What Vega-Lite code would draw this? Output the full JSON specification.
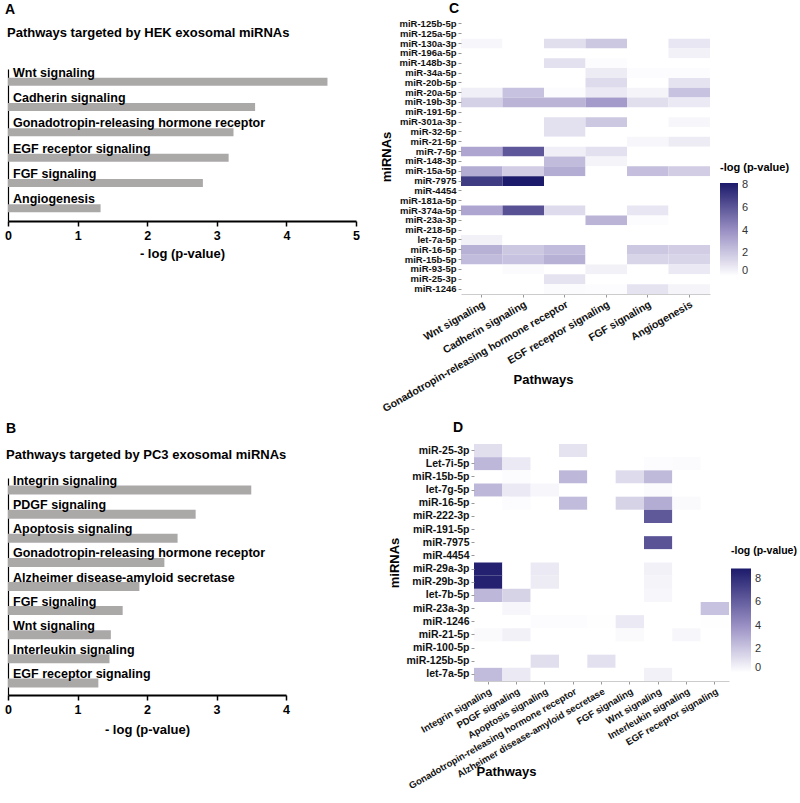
{
  "$schema": "https://vega.github.io/schema/vega-lite/v6.json",
  "padding": {"left": 4, "top": 2, "right": 0, "bottom": 0},
  "background": "#ffffff",
  "config": {
    "font": "Liberation Sans",
    "view": {"stroke": null},
    "axis": {"labelFont": "Liberation Sans", "titleFont": "Liberation Sans", "grid": false},
    "legend": {"labelFont": "Liberation Sans", "titleFont": "Liberation Sans"},
    "title": {"font": "Liberation Sans", "subtitleFont": "Liberation Sans"}
  },
  "datasets": {
    "hek": [
      {"pathway": "Wnt signaling", "value": 4.59},
      {"pathway": "Cadherin signaling", "value": 3.55},
      {"pathway": "Gonadotropin-releasing hormone receptor", "value": 3.24},
      {"pathway": "EGF receptor signaling", "value": 3.17},
      {"pathway": "FGF signaling", "value": 2.8},
      {"pathway": "Angiogenesis", "value": 1.33}
    ],
    "pc3": [
      {"pathway": "Integrin signaling", "value": 3.5},
      {"pathway": "PDGF signaling", "value": 2.7},
      {"pathway": "Apoptosis signaling", "value": 2.44},
      {"pathway": "Gonadotropin-releasing hormone receptor", "value": 2.25},
      {"pathway": "Alzheimer disease-amyloid secretase", "value": 1.89},
      {"pathway": "FGF signaling", "value": 1.65},
      {"pathway": "Wnt signaling", "value": 1.48},
      {"pathway": "Interleukin signaling", "value": 1.46},
      {"pathway": "EGF receptor signaling", "value": 1.3}
    ],
    "heatC": [
      {"mirna": "miR-125b-5p", "pathway": "Wnt signaling", "value": 0},
      {"mirna": "miR-125b-5p", "pathway": "Cadherin signaling", "value": 0},
      {"mirna": "miR-125b-5p", "pathway": "Gonadotropin-releasing hormone receptor", "value": 0},
      {"mirna": "miR-125b-5p", "pathway": "EGF receptor signaling", "value": 0},
      {"mirna": "miR-125b-5p", "pathway": "FGF signaling", "value": 0},
      {"mirna": "miR-125b-5p", "pathway": "Angiogenesis", "value": 0},
      {"mirna": "miR-125a-5p", "pathway": "Wnt signaling", "value": 0},
      {"mirna": "miR-125a-5p", "pathway": "Cadherin signaling", "value": 0},
      {"mirna": "miR-125a-5p", "pathway": "Gonadotropin-releasing hormone receptor", "value": 0},
      {"mirna": "miR-125a-5p", "pathway": "EGF receptor signaling", "value": 0},
      {"mirna": "miR-125a-5p", "pathway": "FGF signaling", "value": 0},
      {"mirna": "miR-125a-5p", "pathway": "Angiogenesis", "value": 0},
      {"mirna": "miR-130a-3p", "pathway": "Wnt signaling", "value": 0.3},
      {"mirna": "miR-130a-3p", "pathway": "Cadherin signaling", "value": 0},
      {"mirna": "miR-130a-3p", "pathway": "Gonadotropin-releasing hormone receptor", "value": 1.2},
      {"mirna": "miR-130a-3p", "pathway": "EGF receptor signaling", "value": 2.0},
      {"mirna": "miR-130a-3p", "pathway": "FGF signaling", "value": 0},
      {"mirna": "miR-130a-3p", "pathway": "Angiogenesis", "value": 0.9},
      {"mirna": "miR-196a-5p", "pathway": "Wnt signaling", "value": 0},
      {"mirna": "miR-196a-5p", "pathway": "Cadherin signaling", "value": 0},
      {"mirna": "miR-196a-5p", "pathway": "Gonadotropin-releasing hormone receptor", "value": 0},
      {"mirna": "miR-196a-5p", "pathway": "EGF receptor signaling", "value": 0},
      {"mirna": "miR-196a-5p", "pathway": "FGF signaling", "value": 0},
      {"mirna": "miR-196a-5p", "pathway": "Angiogenesis", "value": 0.5},
      {"mirna": "miR-148b-3p", "pathway": "Wnt signaling", "value": 0},
      {"mirna": "miR-148b-3p", "pathway": "Cadherin signaling", "value": 0},
      {"mirna": "miR-148b-3p", "pathway": "Gonadotropin-releasing hormone receptor", "value": 1.1},
      {"mirna": "miR-148b-3p", "pathway": "EGF receptor signaling", "value": 0.1},
      {"mirna": "miR-148b-3p", "pathway": "FGF signaling", "value": 0},
      {"mirna": "miR-148b-3p", "pathway": "Angiogenesis", "value": 0},
      {"mirna": "miR-34a-5p", "pathway": "Wnt signaling", "value": 0},
      {"mirna": "miR-34a-5p", "pathway": "Cadherin signaling", "value": 0},
      {"mirna": "miR-34a-5p", "pathway": "Gonadotropin-releasing hormone receptor", "value": 0},
      {"mirna": "miR-34a-5p", "pathway": "EGF receptor signaling", "value": 0.7},
      {"mirna": "miR-34a-5p", "pathway": "FGF signaling", "value": 0.1},
      {"mirna": "miR-34a-5p", "pathway": "Angiogenesis", "value": 0.1},
      {"mirna": "miR-20b-5p", "pathway": "Wnt signaling", "value": 0},
      {"mirna": "miR-20b-5p", "pathway": "Cadherin signaling", "value": 0},
      {"mirna": "miR-20b-5p", "pathway": "Gonadotropin-releasing hormone receptor", "value": 0},
      {"mirna": "miR-20b-5p", "pathway": "EGF receptor signaling", "value": 1.3},
      {"mirna": "miR-20b-5p", "pathway": "FGF signaling", "value": 0},
      {"mirna": "miR-20b-5p", "pathway": "Angiogenesis", "value": 1.0},
      {"mirna": "miR-20a-5p", "pathway": "Wnt signaling", "value": 0.6},
      {"mirna": "miR-20a-5p", "pathway": "Cadherin signaling", "value": 2.2},
      {"mirna": "miR-20a-5p", "pathway": "Gonadotropin-releasing hormone receptor", "value": 0.1},
      {"mirna": "miR-20a-5p", "pathway": "EGF receptor signaling", "value": 0.8},
      {"mirna": "miR-20a-5p", "pathway": "FGF signaling", "value": 0.4},
      {"mirna": "miR-20a-5p", "pathway": "Angiogenesis", "value": 2.2},
      {"mirna": "miR-19b-3p", "pathway": "Wnt signaling", "value": 1.7},
      {"mirna": "miR-19b-3p", "pathway": "Cadherin signaling", "value": 2.7},
      {"mirna": "miR-19b-3p", "pathway": "Gonadotropin-releasing hormone receptor", "value": 2.7},
      {"mirna": "miR-19b-3p", "pathway": "EGF receptor signaling", "value": 3.6},
      {"mirna": "miR-19b-3p", "pathway": "FGF signaling", "value": 1.2},
      {"mirna": "miR-19b-3p", "pathway": "Angiogenesis", "value": 0.8},
      {"mirna": "miR-191-5p", "pathway": "Wnt signaling", "value": 0},
      {"mirna": "miR-191-5p", "pathway": "Cadherin signaling", "value": 0},
      {"mirna": "miR-191-5p", "pathway": "Gonadotropin-releasing hormone receptor", "value": 0},
      {"mirna": "miR-191-5p", "pathway": "EGF receptor signaling", "value": 0},
      {"mirna": "miR-191-5p", "pathway": "FGF signaling", "value": 0},
      {"mirna": "miR-191-5p", "pathway": "Angiogenesis", "value": 0},
      {"mirna": "miR-301a-3p", "pathway": "Wnt signaling", "value": 0},
      {"mirna": "miR-301a-3p", "pathway": "Cadherin signaling", "value": 0},
      {"mirna": "miR-301a-3p", "pathway": "Gonadotropin-releasing hormone receptor", "value": 1.1},
      {"mirna": "miR-301a-3p", "pathway": "EGF receptor signaling", "value": 2.0},
      {"mirna": "miR-301a-3p", "pathway": "FGF signaling", "value": 0},
      {"mirna": "miR-301a-3p", "pathway": "Angiogenesis", "value": 0.3},
      {"mirna": "miR-32-5p", "pathway": "Wnt signaling", "value": 0},
      {"mirna": "miR-32-5p", "pathway": "Cadherin signaling", "value": 0},
      {"mirna": "miR-32-5p", "pathway": "Gonadotropin-releasing hormone receptor", "value": 1.1},
      {"mirna": "miR-32-5p", "pathway": "EGF receptor signaling", "value": 0},
      {"mirna": "miR-32-5p", "pathway": "FGF signaling", "value": 0},
      {"mirna": "miR-32-5p", "pathway": "Angiogenesis", "value": 0},
      {"mirna": "miR-21-5p", "pathway": "Wnt signaling", "value": 0},
      {"mirna": "miR-21-5p", "pathway": "Cadherin signaling", "value": 0},
      {"mirna": "miR-21-5p", "pathway": "Gonadotropin-releasing hormone receptor", "value": 0},
      {"mirna": "miR-21-5p", "pathway": "EGF receptor signaling", "value": 0},
      {"mirna": "miR-21-5p", "pathway": "FGF signaling", "value": 0.3},
      {"mirna": "miR-21-5p", "pathway": "Angiogenesis", "value": 0.7},
      {"mirna": "miR-7-5p", "pathway": "Wnt signaling", "value": 3.2},
      {"mirna": "miR-7-5p", "pathway": "Cadherin signaling", "value": 6.0},
      {"mirna": "miR-7-5p", "pathway": "Gonadotropin-releasing hormone receptor", "value": 0.6},
      {"mirna": "miR-7-5p", "pathway": "EGF receptor signaling", "value": 1.1},
      {"mirna": "miR-7-5p", "pathway": "FGF signaling", "value": 0},
      {"mirna": "miR-7-5p", "pathway": "Angiogenesis", "value": 0},
      {"mirna": "miR-148-3p", "pathway": "Wnt signaling", "value": 0},
      {"mirna": "miR-148-3p", "pathway": "Cadherin signaling", "value": 0},
      {"mirna": "miR-148-3p", "pathway": "Gonadotropin-releasing hormone receptor", "value": 2.4},
      {"mirna": "miR-148-3p", "pathway": "EGF receptor signaling", "value": 0.4},
      {"mirna": "miR-148-3p", "pathway": "FGF signaling", "value": 0},
      {"mirna": "miR-148-3p", "pathway": "Angiogenesis", "value": 0},
      {"mirna": "miR-15a-5p", "pathway": "Wnt signaling", "value": 3.0},
      {"mirna": "miR-15a-5p", "pathway": "Cadherin signaling", "value": 1.8},
      {"mirna": "miR-15a-5p", "pathway": "Gonadotropin-releasing hormone receptor", "value": 3.0},
      {"mirna": "miR-15a-5p", "pathway": "EGF receptor signaling", "value": 0},
      {"mirna": "miR-15a-5p", "pathway": "FGF signaling", "value": 2.3},
      {"mirna": "miR-15a-5p", "pathway": "Angiogenesis", "value": 1.8},
      {"mirna": "miR-7975", "pathway": "Wnt signaling", "value": 7.0},
      {"mirna": "miR-7975", "pathway": "Cadherin signaling", "value": 8.2},
      {"mirna": "miR-7975", "pathway": "Gonadotropin-releasing hormone receptor", "value": 0},
      {"mirna": "miR-7975", "pathway": "EGF receptor signaling", "value": 0},
      {"mirna": "miR-7975", "pathway": "FGF signaling", "value": 0},
      {"mirna": "miR-7975", "pathway": "Angiogenesis", "value": 0},
      {"mirna": "miR-4454", "pathway": "Wnt signaling", "value": 0},
      {"mirna": "miR-4454", "pathway": "Cadherin signaling", "value": 0},
      {"mirna": "miR-4454", "pathway": "Gonadotropin-releasing hormone receptor", "value": 0},
      {"mirna": "miR-4454", "pathway": "EGF receptor signaling", "value": 0},
      {"mirna": "miR-4454", "pathway": "FGF signaling", "value": 0},
      {"mirna": "miR-4454", "pathway": "Angiogenesis", "value": 0},
      {"mirna": "miR-181a-5p", "pathway": "Wnt signaling", "value": 0},
      {"mirna": "miR-181a-5p", "pathway": "Cadherin signaling", "value": 0},
      {"mirna": "miR-181a-5p", "pathway": "Gonadotropin-releasing hormone receptor", "value": 0},
      {"mirna": "miR-181a-5p", "pathway": "EGF receptor signaling", "value": 0},
      {"mirna": "miR-181a-5p", "pathway": "FGF signaling", "value": 0},
      {"mirna": "miR-181a-5p", "pathway": "Angiogenesis", "value": 0},
      {"mirna": "miR-374a-5p", "pathway": "Wnt signaling", "value": 3.2},
      {"mirna": "miR-374a-5p", "pathway": "Cadherin signaling", "value": 6.2},
      {"mirna": "miR-374a-5p", "pathway": "Gonadotropin-releasing hormone receptor", "value": 1.3},
      {"mirna": "miR-374a-5p", "pathway": "EGF receptor signaling", "value": 0},
      {"mirna": "miR-374a-5p", "pathway": "FGF signaling", "value": 0.9},
      {"mirna": "miR-374a-5p", "pathway": "Angiogenesis", "value": 0},
      {"mirna": "miR-23a-3p", "pathway": "Wnt signaling", "value": 0},
      {"mirna": "miR-23a-3p", "pathway": "Cadherin signaling", "value": 0},
      {"mirna": "miR-23a-3p", "pathway": "Gonadotropin-releasing hormone receptor", "value": 0},
      {"mirna": "miR-23a-3p", "pathway": "EGF receptor signaling", "value": 2.7},
      {"mirna": "miR-23a-3p", "pathway": "FGF signaling", "value": 0.1},
      {"mirna": "miR-23a-3p", "pathway": "Angiogenesis", "value": 0},
      {"mirna": "miR-218-5p", "pathway": "Wnt signaling", "value": 0},
      {"mirna": "miR-218-5p", "pathway": "Cadherin signaling", "value": 0},
      {"mirna": "miR-218-5p", "pathway": "Gonadotropin-releasing hormone receptor", "value": 0},
      {"mirna": "miR-218-5p", "pathway": "EGF receptor signaling", "value": 0},
      {"mirna": "miR-218-5p", "pathway": "FGF signaling", "value": 0},
      {"mirna": "miR-218-5p", "pathway": "Angiogenesis", "value": 0},
      {"mirna": "let-7a-5p", "pathway": "Wnt signaling", "value": 0.5},
      {"mirna": "let-7a-5p", "pathway": "Cadherin signaling", "value": 0},
      {"mirna": "let-7a-5p", "pathway": "Gonadotropin-releasing hormone receptor", "value": 0},
      {"mirna": "let-7a-5p", "pathway": "EGF receptor signaling", "value": 0},
      {"mirna": "let-7a-5p", "pathway": "FGF signaling", "value": 0},
      {"mirna": "let-7a-5p", "pathway": "Angiogenesis", "value": 0},
      {"mirna": "miR-16-5p", "pathway": "Wnt signaling", "value": 2.8},
      {"mirna": "miR-16-5p", "pathway": "Cadherin signaling", "value": 2.0},
      {"mirna": "miR-16-5p", "pathway": "Gonadotropin-releasing hormone receptor", "value": 2.4},
      {"mirna": "miR-16-5p", "pathway": "EGF receptor signaling", "value": 0},
      {"mirna": "miR-16-5p", "pathway": "FGF signaling", "value": 2.0},
      {"mirna": "miR-16-5p", "pathway": "Angiogenesis", "value": 1.8},
      {"mirna": "miR-15b-5p", "pathway": "Wnt signaling", "value": 2.4},
      {"mirna": "miR-15b-5p", "pathway": "Cadherin signaling", "value": 2.2},
      {"mirna": "miR-15b-5p", "pathway": "Gonadotropin-releasing hormone receptor", "value": 2.8},
      {"mirna": "miR-15b-5p", "pathway": "EGF receptor signaling", "value": 0},
      {"mirna": "miR-15b-5p", "pathway": "FGF signaling", "value": 1.5},
      {"mirna": "miR-15b-5p", "pathway": "Angiogenesis", "value": 1.5},
      {"mirna": "miR-93-5p", "pathway": "Wnt signaling", "value": 0},
      {"mirna": "miR-93-5p", "pathway": "Cadherin signaling", "value": 0.15},
      {"mirna": "miR-93-5p", "pathway": "Gonadotropin-releasing hormone receptor", "value": 0},
      {"mirna": "miR-93-5p", "pathway": "EGF receptor signaling", "value": 0.5},
      {"mirna": "miR-93-5p", "pathway": "FGF signaling", "value": 0},
      {"mirna": "miR-93-5p", "pathway": "Angiogenesis", "value": 0.8},
      {"mirna": "miR-25-3p", "pathway": "Wnt signaling", "value": 0},
      {"mirna": "miR-25-3p", "pathway": "Cadherin signaling", "value": 0},
      {"mirna": "miR-25-3p", "pathway": "Gonadotropin-releasing hormone receptor", "value": 1.0},
      {"mirna": "miR-25-3p", "pathway": "EGF receptor signaling", "value": 0},
      {"mirna": "miR-25-3p", "pathway": "FGF signaling", "value": 0},
      {"mirna": "miR-25-3p", "pathway": "Angiogenesis", "value": 0},
      {"mirna": "miR-1246", "pathway": "Wnt signaling", "value": 0},
      {"mirna": "miR-1246", "pathway": "Cadherin signaling", "value": 0},
      {"mirna": "miR-1246", "pathway": "Gonadotropin-releasing hormone receptor", "value": 0.15},
      {"mirna": "miR-1246", "pathway": "EGF receptor signaling", "value": 0.1},
      {"mirna": "miR-1246", "pathway": "FGF signaling", "value": 1.0},
      {"mirna": "miR-1246", "pathway": "Angiogenesis", "value": 0.4}
    ],
    "heatD": [
      {"mirna": "miR-25-3p", "pathway": "Integrin signaling", "value": 1.2},
      {"mirna": "miR-25-3p", "pathway": "PDGF signaling", "value": 0},
      {"mirna": "miR-25-3p", "pathway": "Apoptosis signaling", "value": 0},
      {"mirna": "miR-25-3p", "pathway": "Gonadotropin-releasing hormone receptor", "value": 1.0},
      {"mirna": "miR-25-3p", "pathway": "Alzheimer disease-amyloid secretase", "value": 0},
      {"mirna": "miR-25-3p", "pathway": "FGF signaling", "value": 0},
      {"mirna": "miR-25-3p", "pathway": "Wnt signaling", "value": 0},
      {"mirna": "miR-25-3p", "pathway": "Interleukin signaling", "value": 0},
      {"mirna": "miR-25-3p", "pathway": "EGF receptor signaling", "value": 0},
      {"mirna": "Let-7i-5p", "pathway": "Integrin signaling", "value": 2.6},
      {"mirna": "Let-7i-5p", "pathway": "PDGF signaling", "value": 0.8},
      {"mirna": "Let-7i-5p", "pathway": "Apoptosis signaling", "value": 0},
      {"mirna": "Let-7i-5p", "pathway": "Gonadotropin-releasing hormone receptor", "value": 0},
      {"mirna": "Let-7i-5p", "pathway": "Alzheimer disease-amyloid secretase", "value": 0},
      {"mirna": "Let-7i-5p", "pathway": "FGF signaling", "value": 0},
      {"mirna": "Let-7i-5p", "pathway": "Wnt signaling", "value": 0.1},
      {"mirna": "Let-7i-5p", "pathway": "Interleukin signaling", "value": 0.15},
      {"mirna": "Let-7i-5p", "pathway": "EGF receptor signaling", "value": 0},
      {"mirna": "miR-15b-5p", "pathway": "Integrin signaling", "value": 0},
      {"mirna": "miR-15b-5p", "pathway": "PDGF signaling", "value": 0.1},
      {"mirna": "miR-15b-5p", "pathway": "Apoptosis signaling", "value": 0},
      {"mirna": "miR-15b-5p", "pathway": "Gonadotropin-releasing hormone receptor", "value": 2.6},
      {"mirna": "miR-15b-5p", "pathway": "Alzheimer disease-amyloid secretase", "value": 0},
      {"mirna": "miR-15b-5p", "pathway": "FGF signaling", "value": 1.3},
      {"mirna": "miR-15b-5p", "pathway": "Wnt signaling", "value": 2.5},
      {"mirna": "miR-15b-5p", "pathway": "Interleukin signaling", "value": 0},
      {"mirna": "miR-15b-5p", "pathway": "EGF receptor signaling", "value": 0},
      {"mirna": "let-7g-5p", "pathway": "Integrin signaling", "value": 2.6},
      {"mirna": "let-7g-5p", "pathway": "PDGF signaling", "value": 0.8},
      {"mirna": "let-7g-5p", "pathway": "Apoptosis signaling", "value": 0.3},
      {"mirna": "let-7g-5p", "pathway": "Gonadotropin-releasing hormone receptor", "value": 0},
      {"mirna": "let-7g-5p", "pathway": "Alzheimer disease-amyloid secretase", "value": 0},
      {"mirna": "let-7g-5p", "pathway": "FGF signaling", "value": 0},
      {"mirna": "let-7g-5p", "pathway": "Wnt signaling", "value": 0.15},
      {"mirna": "let-7g-5p", "pathway": "Interleukin signaling", "value": 0},
      {"mirna": "let-7g-5p", "pathway": "EGF receptor signaling", "value": 0},
      {"mirna": "miR-16-5p", "pathway": "Integrin signaling", "value": 0},
      {"mirna": "miR-16-5p", "pathway": "PDGF signaling", "value": 0.1},
      {"mirna": "miR-16-5p", "pathway": "Apoptosis signaling", "value": 0},
      {"mirna": "miR-16-5p", "pathway": "Gonadotropin-releasing hormone receptor", "value": 2.4},
      {"mirna": "miR-16-5p", "pathway": "Alzheimer disease-amyloid secretase", "value": 0},
      {"mirna": "miR-16-5p", "pathway": "FGF signaling", "value": 1.6},
      {"mirna": "miR-16-5p", "pathway": "Wnt signaling", "value": 3.0},
      {"mirna": "miR-16-5p", "pathway": "Interleukin signaling", "value": 0.2},
      {"mirna": "miR-16-5p", "pathway": "EGF receptor signaling", "value": 0},
      {"mirna": "miR-222-3p", "pathway": "Integrin signaling", "value": 0},
      {"mirna": "miR-222-3p", "pathway": "PDGF signaling", "value": 0},
      {"mirna": "miR-222-3p", "pathway": "Apoptosis signaling", "value": 0},
      {"mirna": "miR-222-3p", "pathway": "Gonadotropin-releasing hormone receptor", "value": 0},
      {"mirna": "miR-222-3p", "pathway": "Alzheimer disease-amyloid secretase", "value": 0},
      {"mirna": "miR-222-3p", "pathway": "FGF signaling", "value": 0},
      {"mirna": "miR-222-3p", "pathway": "Wnt signaling", "value": 6.3},
      {"mirna": "miR-222-3p", "pathway": "Interleukin signaling", "value": 0},
      {"mirna": "miR-222-3p", "pathway": "EGF receptor signaling", "value": 0},
      {"mirna": "miR-191-5p", "pathway": "Integrin signaling", "value": 0},
      {"mirna": "miR-191-5p", "pathway": "PDGF signaling", "value": 0},
      {"mirna": "miR-191-5p", "pathway": "Apoptosis signaling", "value": 0},
      {"mirna": "miR-191-5p", "pathway": "Gonadotropin-releasing hormone receptor", "value": 0},
      {"mirna": "miR-191-5p", "pathway": "Alzheimer disease-amyloid secretase", "value": 0},
      {"mirna": "miR-191-5p", "pathway": "FGF signaling", "value": 0},
      {"mirna": "miR-191-5p", "pathway": "Wnt signaling", "value": 0},
      {"mirna": "miR-191-5p", "pathway": "Interleukin signaling", "value": 0},
      {"mirna": "miR-191-5p", "pathway": "EGF receptor signaling", "value": 0},
      {"mirna": "miR-7975", "pathway": "Integrin signaling", "value": 0},
      {"mirna": "miR-7975", "pathway": "PDGF signaling", "value": 0},
      {"mirna": "miR-7975", "pathway": "Apoptosis signaling", "value": 0},
      {"mirna": "miR-7975", "pathway": "Gonadotropin-releasing hormone receptor", "value": 0},
      {"mirna": "miR-7975", "pathway": "Alzheimer disease-amyloid secretase", "value": 0},
      {"mirna": "miR-7975", "pathway": "FGF signaling", "value": 0},
      {"mirna": "miR-7975", "pathway": "Wnt signaling", "value": 6.5},
      {"mirna": "miR-7975", "pathway": "Interleukin signaling", "value": 0},
      {"mirna": "miR-7975", "pathway": "EGF receptor signaling", "value": 0},
      {"mirna": "miR-4454", "pathway": "Integrin signaling", "value": 0},
      {"mirna": "miR-4454", "pathway": "PDGF signaling", "value": 0},
      {"mirna": "miR-4454", "pathway": "Apoptosis signaling", "value": 0},
      {"mirna": "miR-4454", "pathway": "Gonadotropin-releasing hormone receptor", "value": 0},
      {"mirna": "miR-4454", "pathway": "Alzheimer disease-amyloid secretase", "value": 0},
      {"mirna": "miR-4454", "pathway": "FGF signaling", "value": 0},
      {"mirna": "miR-4454", "pathway": "Wnt signaling", "value": 0},
      {"mirna": "miR-4454", "pathway": "Interleukin signaling", "value": 0},
      {"mirna": "miR-4454", "pathway": "EGF receptor signaling", "value": 0},
      {"mirna": "miR-29a-3p", "pathway": "Integrin signaling", "value": 8.6},
      {"mirna": "miR-29a-3p", "pathway": "PDGF signaling", "value": 0},
      {"mirna": "miR-29a-3p", "pathway": "Apoptosis signaling", "value": 0.8},
      {"mirna": "miR-29a-3p", "pathway": "Gonadotropin-releasing hormone receptor", "value": 0},
      {"mirna": "miR-29a-3p", "pathway": "Alzheimer disease-amyloid secretase", "value": 0},
      {"mirna": "miR-29a-3p", "pathway": "FGF signaling", "value": 0},
      {"mirna": "miR-29a-3p", "pathway": "Wnt signaling", "value": 0.5},
      {"mirna": "miR-29a-3p", "pathway": "Interleukin signaling", "value": 0},
      {"mirna": "miR-29a-3p", "pathway": "EGF receptor signaling", "value": 0},
      {"mirna": "miR-29b-3p", "pathway": "Integrin signaling", "value": 8.6},
      {"mirna": "miR-29b-3p", "pathway": "PDGF signaling", "value": 0},
      {"mirna": "miR-29b-3p", "pathway": "Apoptosis signaling", "value": 0.7},
      {"mirna": "miR-29b-3p", "pathway": "Gonadotropin-releasing hormone receptor", "value": 0},
      {"mirna": "miR-29b-3p", "pathway": "Alzheimer disease-amyloid secretase", "value": 0},
      {"mirna": "miR-29b-3p", "pathway": "FGF signaling", "value": 0},
      {"mirna": "miR-29b-3p", "pathway": "Wnt signaling", "value": 0.4},
      {"mirna": "miR-29b-3p", "pathway": "Interleukin signaling", "value": 0},
      {"mirna": "miR-29b-3p", "pathway": "EGF receptor signaling", "value": 0},
      {"mirna": "let-7b-5p", "pathway": "Integrin signaling", "value": 2.6},
      {"mirna": "let-7b-5p", "pathway": "PDGF signaling", "value": 1.6},
      {"mirna": "let-7b-5p", "pathway": "Apoptosis signaling", "value": 0},
      {"mirna": "let-7b-5p", "pathway": "Gonadotropin-releasing hormone receptor", "value": 0},
      {"mirna": "let-7b-5p", "pathway": "Alzheimer disease-amyloid secretase", "value": 0},
      {"mirna": "let-7b-5p", "pathway": "FGF signaling", "value": 0},
      {"mirna": "let-7b-5p", "pathway": "Wnt signaling", "value": 0.3},
      {"mirna": "let-7b-5p", "pathway": "Interleukin signaling", "value": 0},
      {"mirna": "let-7b-5p", "pathway": "EGF receptor signaling", "value": 0},
      {"mirna": "miR-23a-3p", "pathway": "Integrin signaling", "value": 0},
      {"mirna": "miR-23a-3p", "pathway": "PDGF signaling", "value": 0.3},
      {"mirna": "miR-23a-3p", "pathway": "Apoptosis signaling", "value": 0},
      {"mirna": "miR-23a-3p", "pathway": "Gonadotropin-releasing hormone receptor", "value": 0},
      {"mirna": "miR-23a-3p", "pathway": "Alzheimer disease-amyloid secretase", "value": 0},
      {"mirna": "miR-23a-3p", "pathway": "FGF signaling", "value": 0},
      {"mirna": "miR-23a-3p", "pathway": "Wnt signaling", "value": 0},
      {"mirna": "miR-23a-3p", "pathway": "Interleukin signaling", "value": 0},
      {"mirna": "miR-23a-3p", "pathway": "EGF receptor signaling", "value": 2.2},
      {"mirna": "miR-1246", "pathway": "Integrin signaling", "value": 0},
      {"mirna": "miR-1246", "pathway": "PDGF signaling", "value": 0},
      {"mirna": "miR-1246", "pathway": "Apoptosis signaling", "value": 0.1},
      {"mirna": "miR-1246", "pathway": "Gonadotropin-releasing hormone receptor", "value": 0.1},
      {"mirna": "miR-1246", "pathway": "Alzheimer disease-amyloid secretase", "value": 0.05},
      {"mirna": "miR-1246", "pathway": "FGF signaling", "value": 0.8},
      {"mirna": "miR-1246", "pathway": "Wnt signaling", "value": 0},
      {"mirna": "miR-1246", "pathway": "Interleukin signaling", "value": 0},
      {"mirna": "miR-1246", "pathway": "EGF receptor signaling", "value": 0.05},
      {"mirna": "miR-21-5p", "pathway": "Integrin signaling", "value": 0.2},
      {"mirna": "miR-21-5p", "pathway": "PDGF signaling", "value": 0.5},
      {"mirna": "miR-21-5p", "pathway": "Apoptosis signaling", "value": 0},
      {"mirna": "miR-21-5p", "pathway": "Gonadotropin-releasing hormone receptor", "value": 0},
      {"mirna": "miR-21-5p", "pathway": "Alzheimer disease-amyloid secretase", "value": 0},
      {"mirna": "miR-21-5p", "pathway": "FGF signaling", "value": 0.2},
      {"mirna": "miR-21-5p", "pathway": "Wnt signaling", "value": 0},
      {"mirna": "miR-21-5p", "pathway": "Interleukin signaling", "value": 0.3},
      {"mirna": "miR-21-5p", "pathway": "EGF receptor signaling", "value": 0},
      {"mirna": "miR-100-5p", "pathway": "Integrin signaling", "value": 0},
      {"mirna": "miR-100-5p", "pathway": "PDGF signaling", "value": 0},
      {"mirna": "miR-100-5p", "pathway": "Apoptosis signaling", "value": 0},
      {"mirna": "miR-100-5p", "pathway": "Gonadotropin-releasing hormone receptor", "value": 0},
      {"mirna": "miR-100-5p", "pathway": "Alzheimer disease-amyloid secretase", "value": 0},
      {"mirna": "miR-100-5p", "pathway": "FGF signaling", "value": 0},
      {"mirna": "miR-100-5p", "pathway": "Wnt signaling", "value": 0},
      {"mirna": "miR-100-5p", "pathway": "Interleukin signaling", "value": 0},
      {"mirna": "miR-100-5p", "pathway": "EGF receptor signaling", "value": 0},
      {"mirna": "miR-125b-5p", "pathway": "Integrin signaling", "value": 0},
      {"mirna": "miR-125b-5p", "pathway": "PDGF signaling", "value": 0},
      {"mirna": "miR-125b-5p", "pathway": "Apoptosis signaling", "value": 1.2},
      {"mirna": "miR-125b-5p", "pathway": "Gonadotropin-releasing hormone receptor", "value": 0},
      {"mirna": "miR-125b-5p", "pathway": "Alzheimer disease-amyloid secretase", "value": 1.1},
      {"mirna": "miR-125b-5p", "pathway": "FGF signaling", "value": 0},
      {"mirna": "miR-125b-5p", "pathway": "Wnt signaling", "value": 0},
      {"mirna": "miR-125b-5p", "pathway": "Interleukin signaling", "value": 0},
      {"mirna": "miR-125b-5p", "pathway": "EGF receptor signaling", "value": 0},
      {"mirna": "let-7a-5p", "pathway": "Integrin signaling", "value": 2.4},
      {"mirna": "let-7a-5p", "pathway": "PDGF signaling", "value": 0.8},
      {"mirna": "let-7a-5p", "pathway": "Apoptosis signaling", "value": 0},
      {"mirna": "let-7a-5p", "pathway": "Gonadotropin-releasing hormone receptor", "value": 0},
      {"mirna": "let-7a-5p", "pathway": "Alzheimer disease-amyloid secretase", "value": 0},
      {"mirna": "let-7a-5p", "pathway": "FGF signaling", "value": 0},
      {"mirna": "let-7a-5p", "pathway": "Wnt signaling", "value": 0.5},
      {"mirna": "let-7a-5p", "pathway": "Interleukin signaling", "value": 0},
      {"mirna": "let-7a-5p", "pathway": "EGF receptor signaling", "value": 0}
    ]
  },
  "spacing": 20,
  "hconcat": [
    {
      "spacing": 161,
      "vconcat": [
        {
          "spacing": 3,
          "vconcat": [
            {
              "width": 348,
              "height": 4,
              "title": {"text": "A", "anchor": "start", "frame": "group", "fontSize": 14, "fontWeight": "bold", "color": "#000", "dx": -3, "offset": 2},
              "data": {"values": []},
              "mark": {"type": "rule"},
              "encoding": {}
            },
            {
              "width": 348,
              "height": 152,
              "title": {"text": "Pathways targeted by HEK exosomal miRNAs", "anchor": "start", "frame": "group", "fontSize": 13, "fontWeight": "bold", "color": "#000", "offset": 27, "dx": -1},
              "data": {"name": "hek"},
              "encoding": {
                "y": {"field": "pathway", "type": "nominal", "sort": null, "scale": {"paddingInner": 0, "paddingOuter": 0}, "axis": {"title": null, "labels": false, "ticks": false, "domainColor": "#000", "domainWidth": 1.2}},
                "x": {"field": "value", "type": "quantitative", "scale": {"domain": [0, 5], "nice": false}, "axis": {"title": "- log (p-value)", "values": [0, 1, 2, 3, 4, 5], "domainColor": "#000", "domainWidth": 2, "tickColor": "#000", "tickWidth": 1.5, "tickSize": 5, "labelFontSize": 12.5, "labelFontWeight": "bold", "labelColor": "#000", "labelPadding": 3, "labelFlush": false, "titleFontSize": 13, "titleFontWeight": "bold", "titleColor": "#000", "titlePadding": 6}}
              },
              "layer": [
                {"mark": {"type": "bar", "color": "#aba8a8", "size": 8}},
                {"mark": {"type": "text", "align": "left", "baseline": "alphabetic", "dx": 5, "dy": -5, "fontSize": 12.5, "fontWeight": "bold", "color": "#000"}, "encoding": {"x": {"datum": 0}, "text": {"field": "pathway"}}}
              ]
            }
          ]
        },
        {
          "width": 278,
          "height": 217,
          "title": {"text": "B", "subtitle": "Pathways targeted by PC3 exosomal miRNAs", "anchor": "start", "frame": "group", "fontSize": 14, "fontWeight": "bold", "color": "#000", "subtitleFontSize": 13, "subtitleFontWeight": "bold", "subtitleColor": "#000", "subtitlePadding": 13, "offset": 13, "dx": -2},
          "data": {"name": "pc3"},
          "encoding": {
            "y": {"field": "pathway", "type": "nominal", "sort": null, "scale": {"paddingInner": 0, "paddingOuter": 0}, "axis": {"title": null, "labels": false, "ticks": false, "domainColor": "#000", "domainWidth": 1.2}},
            "x": {"field": "value", "type": "quantitative", "scale": {"domain": [0, 4], "nice": false}, "axis": {"title": "- log (p-value)", "values": [0, 1, 2, 3, 4], "domainColor": "#000", "domainWidth": 2, "tickColor": "#000", "tickWidth": 1.5, "tickSize": 5, "labelFontSize": 12.5, "labelFontWeight": "bold", "labelColor": "#000", "labelPadding": 3, "labelFlush": false, "titleFontSize": 13, "titleFontWeight": "bold", "titleColor": "#000", "titlePadding": 8}}
          },
          "layer": [
            {"mark": {"type": "bar", "color": "#aba8a8", "size": 9}},
            {"mark": {"type": "text", "align": "left", "baseline": "alphabetic", "dx": 5, "dy": -5, "fontSize": 12.5, "fontWeight": "bold", "color": "#000"}, "encoding": {"x": {"datum": 0}, "text": {"field": "pathway"}}}
          ]
        }
      ]
    },
    {
      "spacing": 7,
      "resolve": {"scale": {"color": "independent"}},
      "vconcat": [
        {
          "width": 249,
          "height": 275,
          "title": {"text": "C", "anchor": "start", "frame": "group", "fontSize": 14, "fontWeight": "bold", "color": "#000", "dx": -12, "offset": 2},
          "data": {"name": "heatC"},
          "mark": {"type": "rect"},
          "encoding": {
            "x": {"field": "pathway", "type": "nominal", "sort": null, "scale": {"paddingInner": 0, "paddingOuter": 0}, "axis": {"title": "Pathways", "labelAngle": -30, "labelLimit": 400, "labelFontSize": 10.5, "labelFontWeight": "bold", "labelColor": "#111", "domainColor": "#cccccc", "tickColor": "#999999", "tickSize": 3, "labelPadding": 2, "titleFontSize": 13, "titleFontWeight": "bold", "titleColor": "#000", "titleX": 82, "titleY": 85, "titleAlign": "center", "titleBaseline": "middle"}},
            "y": {"field": "mirna", "type": "nominal", "sort": null, "scale": {"paddingInner": 0, "paddingOuter": 0}, "axis": {"title": "miRNAs", "domain": false, "labelFontSize": 9.5, "labelFontWeight": "bold", "labelColor": "#111", "tickColor": "#999999", "tickSize": 3, "labelPadding": 2, "titleFontSize": 13, "titleFontWeight": "bold", "titleColor": "#000", "titlePadding": 5}},
            "color": {"field": "value", "type": "quantitative", "scale": {"domain": [0, 4, 8.2], "range": ["#ffffff", "#9a90c4", "#1c1a6b"], "interpolate": "rgb"}, "legend": {"title": "-log (p-value)", "orient": "none", "legendX": 259, "legendY": 143, "direction": "vertical", "gradientLength": 93, "gradientThickness": 18, "values": [0, 2, 4, 6, 8], "titleFontSize": 11, "titleFontWeight": "bold", "titleColor": "#000", "titlePadding": 10, "labelFontSize": 11, "labelColor": "#333", "labelOffset": 4}}
          }
        },
        {
          "width": 268,
          "height": 237,
          "title": {"text": "D", "anchor": "start", "frame": "group", "fontSize": 14, "fontWeight": "bold", "color": "#000", "dx": -8, "offset": 9},
          "data": {"name": "heatD"},
          "mark": {"type": "rect"},
          "encoding": {
            "x": {"field": "pathway", "type": "nominal", "sort": null, "scale": {"paddingInner": 0, "paddingOuter": 0, "rangeMin": 13}, "axis": {"title": "Pathways", "labelAngle": -30, "labelLimit": 400, "labelFontSize": 9.5, "labelFontWeight": "bold", "labelColor": "#111", "domainColor": "#cccccc", "tickColor": "#999999", "tickSize": 3, "labelPadding": 2, "titleFontSize": 13, "titleFontWeight": "bold", "titleColor": "#000", "titleX": 45, "titleY": 90, "titleAlign": "center", "titleBaseline": "middle"}},
            "y": {"field": "mirna", "type": "nominal", "sort": null, "scale": {"paddingInner": 0, "paddingOuter": 0}, "axis": {"title": "miRNAs", "offset": -13, "domain": false, "labelFontSize": 10.5, "labelFontWeight": "bold", "labelColor": "#111", "tickColor": "#999999", "tickSize": 3, "labelPadding": 2, "titleFontSize": 13, "titleFontWeight": "bold", "titleColor": "#000", "titlePadding": 4}},
            "color": {"field": "value", "type": "quantitative", "scale": {"domain": [0, 4, 8.9], "range": ["#ffffff", "#9a90c4", "#1c1a6b"], "interpolate": "rgb"}, "legend": {"title": "-log (p-value)", "orient": "none", "legendX": 270, "legendY": 102, "direction": "vertical", "gradientLength": 104, "gradientThickness": 20, "values": [0, 2, 4, 6, 8], "titleFontSize": 10.5, "titleFontWeight": "bold", "titleColor": "#000", "titlePadding": 12, "labelFontSize": 11, "labelColor": "#333", "labelOffset": 4}}
          }
        }
      ]
    }
  ],
  "resolve": {"scale": {"color": "independent"}}
}
